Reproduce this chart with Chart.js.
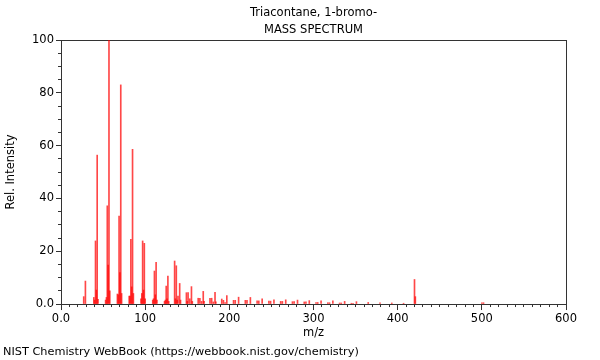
<!DOCTYPE html>
<html>
<head>
<meta charset="utf-8">
<script src="https://cdn.jsdelivr.net/npm/chart.js@4/dist/chart.umd.min.js"></script>
<style>
html,body{margin:0;padding:0;background:#fff;}
#c{display:block;}
</style>
</head>
<body>
<canvas id="c" width="600" height="360"></canvas>
<script>
const titleLines = ['Triacontane, 1-bromo-', 'MASS SPECTRUM'];
const xTitle = 'm/z';
const yTitle = 'Rel. Intensity';
const footer = 'NIST Chemistry WebBook (https://webbook.nist.gov/chemistry)';

const mz = [27,29,39,40,41,42,43,44,53,54,55,56,57,58,67,68,69,70,71,72,81,82,83,84,85,86,95,96,97,98,99,100,109,110,111,112,113,114,123,124,125,126,127,128,135,136,137,138,139,141,142,149,150,151,153,155,156,163,165,167,169,170,177,179,181,183,184,191,193,195,197,205,207,211,219,221,225,233,235,239,247,249,253,261,263,267,275,277,281,289,291,295,303,305,309,317,319,323,331,333,337,345,347,351,365,379,393,407,420,421,500,502];
const intensity = [2.8,8.7,2.5,1.5,23.9,5.3,56.4,1.8,1.5,2.5,37.2,14.8,100,5.0,3.8,3.5,33.3,11.9,83.0,4.0,3.0,3.0,24.5,6.5,58.6,4.0,2.0,4.0,23.9,5.3,23.0,2.0,1.5,2.0,12.5,3.5,15.8,1.5,1.0,1.5,6.8,2.0,10.6,1.0,16.3,2.0,14.5,1.5,3.0,7.8,1.5,4.3,1.0,4.3,2.0,6.6,1.0,2.2,2.2,1.0,4.8,1.0,2.2,2.2,0.8,4.4,0.8,1.9,1.4,0.6,3.2,1.4,1.4,2.6,1.4,1.4,2.5,1.2,1.2,2.0,1.1,1.1,1.6,1.0,1.0,1.6,0.9,0.9,1.5,0.8,0.8,1.3,0.6,0.6,1.2,0.5,0.5,1.2,0.4,0.4,1.0,0.3,0.3,0.9,0.6,0.5,0.4,0.3,9.3,2.8,0.5,0.5];

const xMin = 0, xMax = 600, xMajor = 100, xMinor = 10;
const yMin = 0, yMax = 100, yMajor = 20, yMinor = 5;

const FONT = 'DejaVu Sans';
const FS = 11.5;
const AX = '#333';
const fmt = v => (v === 0 ? '0.0' : String(v));

const points = mz.map((m, i) => ({x: m, y: intensity[i]}));

new Chart(document.getElementById('c'), {
  type: 'bar',
  data: {
    datasets: [{
      data: points,
      backgroundColor: 'rgba(255,0,0,0.72)',
      borderWidth: 0,
      barThickness: 1,
      xAxisID: 'x',
      yAxisID: 'y'
    }]
  },
  options: {
    responsive: false,
    animation: false,
    devicePixelRatio: 1,
    layout: {padding: {left: 3, right: 34, top: 0, bottom: 0}},
    plugins: {
      legend: {display: false},
      tooltip: {enabled: false},
      title: {
        display: true,
        fullSize: false,
        text: titleLines,
        color: '#000',
        font: {family: FONT, size: FS, weight: 'normal', lineHeight: '17px'},
        padding: {top: 4.5, bottom: 1.5}
      },
      subtitle: {
        display: true,
        position: 'bottom',
        align: 'start',
        text: footer,
        color: '#000',
        font: {family: FONT, size: 11.3, weight: 'normal', lineHeight: 1.2},
        padding: {top: 0, bottom: 1.5}
      }
    },
    scales: {
      x: {
        type: 'linear', position: 'bottom', weight: 1, offset: false,
        min: xMin, max: xMax,
        ticks: {stepSize: xMajor, autoSkip: false, maxRotation: 0, color: '#000', padding: 2,
                font: {family: FONT, size: FS}, callback: v => fmt(v)},
        grid: {offset: false, drawOnChartArea: false, drawTicks: true, tickLength: 6, color: AX, tickColor: AX},
        border: {display: true, color: AX, width: 1},
        title: {display: true, text: xTitle, color: '#000', font: {family: FONT, size: FS}, padding: {top: 0, bottom: 5}},
        afterFit: s => { s.height = 40.9; }
      },
      x2: {
        type: 'linear', position: 'bottom', weight: 0, offset: false,
        min: xMin, max: xMax,
        ticks: {display: false, stepSize: xMinor, autoSkip: false},
        grid: {offset: false, drawOnChartArea: false, drawTicks: true, tickLength: 3, color: AX, tickColor: AX},
        border: {display: false},
        afterFit: s => { s.height = 0; }
      },
      xTop: {
        type: 'linear', position: 'top', weight: 0, offset: false,
        min: xMin, max: xMax,
        ticks: {display: false},
        grid: {display: false},
        border: {display: true, color: AX, width: 1},
        afterFit: s => { s.height = 0; }
      },
      y: {
        type: 'linear', position: 'left', weight: 1,
        min: yMin, max: yMax,
        ticks: {stepSize: yMajor, autoSkip: false, color: '#000', padding: 2,
                font: {family: FONT, size: FS}, callback: v => fmt(v)},
        grid: {drawOnChartArea: false, drawTicks: true, tickLength: 5, color: AX, tickColor: AX},
        border: {display: true, color: AX, width: 1},
        title: {display: true, text: yTitle, color: '#000', font: {family: FONT, size: FS}, padding: {top: 1, bottom: 0}},
        afterFit: s => { s.width = 58; }
      },
      y2: {
        type: 'linear', position: 'left', weight: 0,
        min: yMin, max: yMax,
        ticks: {display: false, stepSize: yMinor, autoSkip: false},
        grid: {drawOnChartArea: false, drawTicks: true, tickLength: 3, color: AX, tickColor: AX},
        border: {display: false},
        afterFit: s => { s.width = 0; }
      },
      yRight: {
        type: 'linear', position: 'right', weight: 0,
        min: yMin, max: yMax,
        ticks: {display: false},
        grid: {display: false},
        border: {display: true, color: AX, width: 1},
        afterFit: s => { s.width = 0; }
      }
    }
  }
});
</script>
</body>
</html>
